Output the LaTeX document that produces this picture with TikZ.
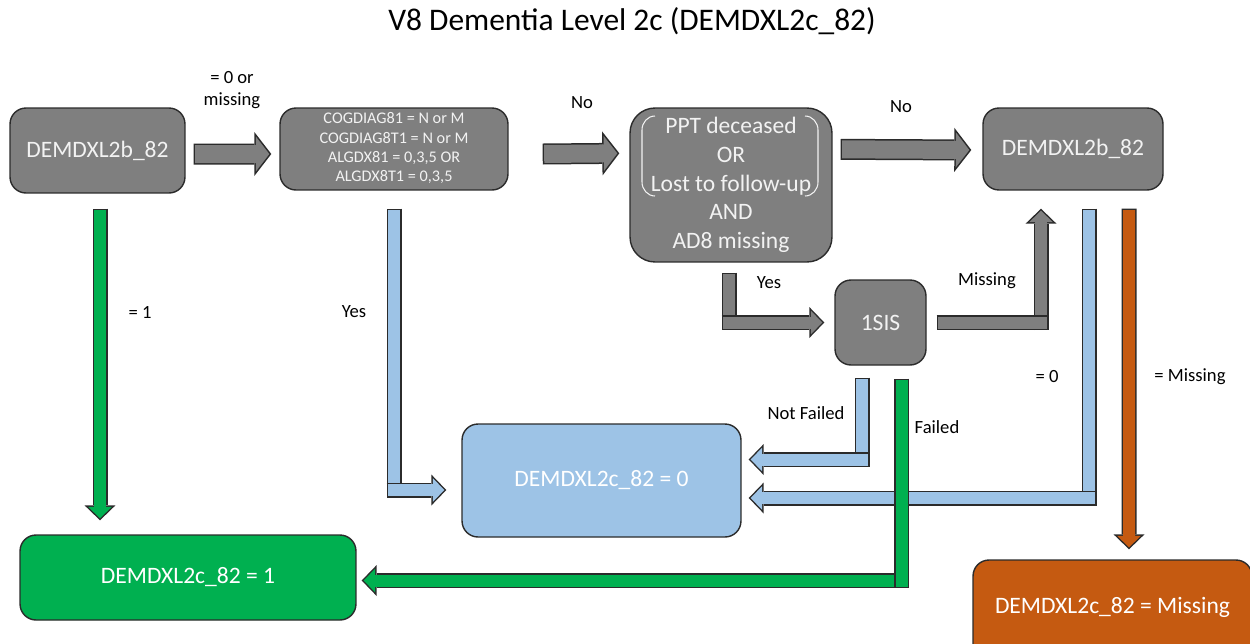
\documentclass[tikz,border=0pt]{standalone}
\usepackage{fontspec}
\setmainfont{Carlito}
\usetikzlibrary{arrows.meta, calc}
\definecolor{boxgray}{HTML}{7F7F7F}
\definecolor{edge}{HTML}{2B2B2B}
\definecolor{boxtext}{HTML}{F2F2F2}
\definecolor{zeroblue}{HTML}{9DC3E6}
\definecolor{onegreen}{HTML}{00B050}
\definecolor{missorange}{HTML}{C55A11}
\tikzset{
  box/.style={draw=edge, line width=0.8pt, rounded corners=0.32cm, text=boxtext, align=center, inner sep=0pt, font=\fontsize{13.4}{16.3}\selectfont},
  lbl/.style={font=\fontsize{10.6}{12.8}\selectfont, align=center},
  bigout/.style={draw=edge, line width=0.42cm, -{Triangle[line width=0pt, length=0.34cm, width=0.88cm]}},
  bigin/.style={line width=0.36cm, shorten <=0.03cm, shorten >=0.04cm, -{Triangle[line width=0pt, length=0.27cm, width=0.70cm]}},
  smallout/.style={draw=edge, line width=0.3cm, -{Triangle[line width=0pt, length=0.3cm, width=0.62cm]}},
  smallin/.style={line width=0.24cm, shorten <=0.03cm, shorten >=0.04cm, -{Triangle[line width=0pt, length=0.228cm, width=0.47cm]}},
  barout/.style={draw=edge, line width=0.3cm},
  barin/.style={line width=0.24cm, shorten <=0.03cm, shorten >=0.03cm},
}
\newcommand\flowarrow[3]{\draw[#2out] #3; \draw[#2in, draw=#1] #3;}
\newcommand\flowbar[2]{\draw[barout] #2; \draw[barin, draw=#1] #2;}

\begin{document}
\begin{tikzpicture}[x=0.02cm, y=-0.02cm]
\useasboundingbox (0,0) rectangle (1250,643);

\node[font=\fontsize{17.9}{21}\selectfont] (title) at (632,21) {V8 Dementia Level 2c (DEMDXL2c\_82)};

\node[box, fill=boxgray, minimum width=3.5cm, minimum height=1.7cm] (A) at (97.5,150.5) {DEMDXL2b\_82};
\node[box, fill=boxgray, minimum width=4.56cm, minimum height=1.64cm, font=\fontsize{9.25}{11}\selectfont] (B) at (394,149) {\raisebox{-0.06cm}{\begin{tabular}{@{}c@{}}COGDIAG81 = N or M\\COGDIAG8T1 = N or M\\ALGDX81 = 0,3,5 OR\\ALGDX8T1 = 0,3,5\end{tabular}}};
\node[box, fill=boxgray, minimum width=4.04cm, minimum height=3.08cm, rounded corners=0.5cm] (C) at (731,185) {PPT deceased\\OR\\Lost to follow-up\\AND\\AD8 missing};
\node[box, fill=boxgray, minimum width=3.6cm, minimum height=1.64cm] (D) at (1073,149) {DEMDXL2b\_82};
\node[box, fill=boxgray, minimum width=1.82cm, minimum height=1.7cm] (E) at (880.5,322.5) {1SIS};
\node[box, fill=zeroblue, text=white, minimum width=5.58cm, minimum height=2.26cm] (F) at (601.5,480.5) {DEMDXL2c\_82 = 0};
\node[box, fill=onegreen, text=white, minimum width=6.72cm, minimum height=1.7cm] (G) at (188,577.5) {DEMDXL2c\_82 = 1};
\node[box, fill=missorange, text=white, minimum width=5.58cm, minimum height=2cm] (H) at (1112.5,610) {\raisebox{0.2cm}{DEMDXL2c\_82 = Missing}};

\draw[boxtext, line width=0.6pt] (655,116) to[out=180,in=90] (642,130) -- (642,182) to[out=-90,in=180] (655,196);
\draw[boxtext, line width=0.6pt] (805,116) to[out=0,in=90] (818,130) -- (818,182) to[out=-90,in=0] (805,196);

\flowarrow{boxgray}{big}{($(A.east)+(8,3.5)$) -- ($(B.west)+(-8,5)$)}
\flowarrow{boxgray}{big}{($(B.east)+(34,5)$) -- ($(C.north west)+(-10,46)$)}
\flowarrow{boxgray}{big}{($(C.north east)+(8,42)$) -- ($(D.west)+(-11,1)$)}
\flowarrow{onegreen}{small}{($(A.south)+(2.5,15)$) -- ($(A.south |- G.north)+(2.5,-14)$)}
\flowbar{zeroblue}{($(B.south)+(0,18)$) -- ($(B.south |- F.west)+(0,17)$)}
\flowarrow{zeroblue}{small}{($(B.south |- F.west)+(-7.5,9.5)$) -- ($(F.west)+(-15,9.5)$)}
\flowbar{boxgray}{($(C.south)+(-2,10)$) -- ($(C.south |- E.west)+(-2,7.5)$)}
\flowarrow{boxgray}{small}{($(C.south |- E.west)+(-9.5,0)$) -- ($(E.west)+(-10,0)$)}
\flowarrow{boxgray}{small}{($(D.south |- E.east)+(-32,7.5)$) -- ($(D.south)+(-32,18)$)}
\flowbar{boxgray}{($(E.east)+(10,0)$) -- ($(D.south |- E.east)+(-24.5,0)$)}
\flowbar{zeroblue}{($(D.south)+(16,18)$) -- ($(D.south |- F.east)+(16,25)$)}
\flowarrow{zeroblue}{small}{($(D.south |- F.east)+(23.5,17.5)$) -- ($(F.east)+(7,17.5)$)}
\flowbar{zeroblue}{($(E.south)+(-18.5,12)$) -- ($(E.south |- F.east)+(-18.5,-13.5)$)}
\flowarrow{zeroblue}{small}{($(E.south |- F.east)+(-11,-21)$) -- ($(F.east)+(7,-21)$)}
\flowarrow{onegreen}{small}{($(E.south |- G.east)+(28.5,3)$) -- ($(G.east)+(5,3)$)}
\flowbar{onegreen}{($(E.south)+(21,13)$) -- ($(E.south |- G.east)+(21,10.5)$)}
\flowarrow{missorange}{small}{($(D.south)+(56,18)$) -- ($(H.north)+(16.5,-10)$)}

\node[lbl] (l1) at (232,90) {= 0 or\\missing};
\node[lbl] (l2) at (582,103) {No};
\node[lbl] (l3) at (901,107) {No};
\node[lbl] (l4) at (140,312) {= 1};
\node[lbl] (l5) at (354,312) {Yes};
\node[lbl] (l6) at (769,283) {Yes};
\node[lbl] (l7) at (987,281) {Missing};
\node[lbl] (l8) at (1047,377) {= 0};
\node[lbl] (l9) at (1190,377) {= Missing};
\node[lbl] (l10) at (806,413) {Not Failed};
\node[lbl] (l11) at (937,427) {Failed};
\end{tikzpicture}
\end{document}
